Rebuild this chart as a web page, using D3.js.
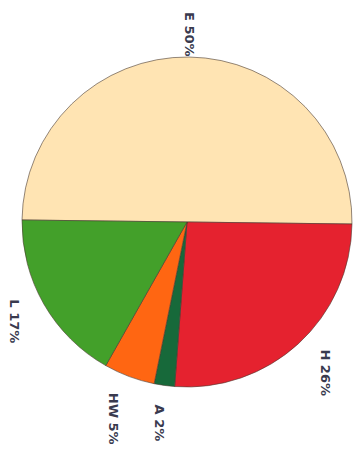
<!DOCTYPE html>
<html>
<head>
<meta charset="utf-8">
<script src="https://cdn.jsdelivr.net/npm/d3@7/dist/d3.min.js"></script>
<style>
  html, body { margin: 0; padding: 0; background: #ffffff; }
  svg { display: block; }
</style>
</head>
<body>
<svg id="chart" width="363" height="451"></svg>
<script>
// Share of each category, in percent
const categories = ["E", "H", "A", "HW", "L"];
const values = [50, 26, 2, 5, 17];
const sliceColors = ["#ffe4b3", "#e5222f", "#17693a", "#ff6612", "#43a02a"];

const width = 363, height = 451;
const cx = 187, cy = 222, radius = 165;
const labelGap = 19;
const fontSize = 13;
const margin = { top: 12, left: 4 };

const svg = d3.select("#chart");

// Pie starts just past 9 o'clock and runs clockwise in data order
const start = (-90 + 0.7) * Math.PI / 180;
const pie = d3.pie().sort(null).value(d => d.value)
  .startAngle(start).endAngle(start + 2 * Math.PI);

const data = categories.map((c, i) => ({ cat: c, value: values[i], color: sliceColors[i] }));
const arcs = pie(data);

const arc = d3.arc().innerRadius(0).outerRadius(radius);

const g = svg.append("g").attr("transform", `translate(${cx},${cy})`);

g.selectAll("path.slice")
  .data(arcs)
  .enter().append("path")
  .attr("class", "slice")
  .attr("d", arc)
  .attr("fill", d => d.data.color)
  .attr("stroke", "#4a3a30")
  .attr("stroke-width", 0.8)
  .attr("stroke-opacity", 0.75)
  .attr("stroke-linejoin", "round");

// Labels: rotated a quarter turn, set outside each slice along its mid-angle
const labels = svg.append("g")
  .attr("font-family", "'DejaVu Sans', Verdana, sans-serif")
  .attr("font-weight", "bold")
  .attr("font-size", fontSize)
  .attr("fill", "#393a4e");

arcs.forEach(d => {
  const mid = (d.startAngle + d.endAngle) / 2;
  const ux = Math.sin(mid), uy = -Math.cos(mid);
  const t = labels.append("text")
    .attr("text-anchor", "middle")
    .attr("dy", "0.35em")
    .text(`${d.data.cat} ${d.data.value}%`);
  const len = t.node().getComputedTextLength();
  // box on screen: narrow in x (glyph height), long in y (text length)
  const bw = fontSize * 0.75, bh = len;
  const half = Math.abs(ux) * bw / 2 + Math.abs(uy) * bh / 2;
  const dist = radius + labelGap + half;
  let x = cx + dist * ux;
  let y = cy + dist * uy;
  y = Math.max(y, margin.top + bh / 2);
  y = Math.min(y, height - 4 - bh / 2);
  x = Math.max(x, margin.left + bw / 2);
  t.attr("x", x).attr("y", y)
    .attr("transform", `rotate(90,${x},${y})`);
});
</script>
</body>
</html>
